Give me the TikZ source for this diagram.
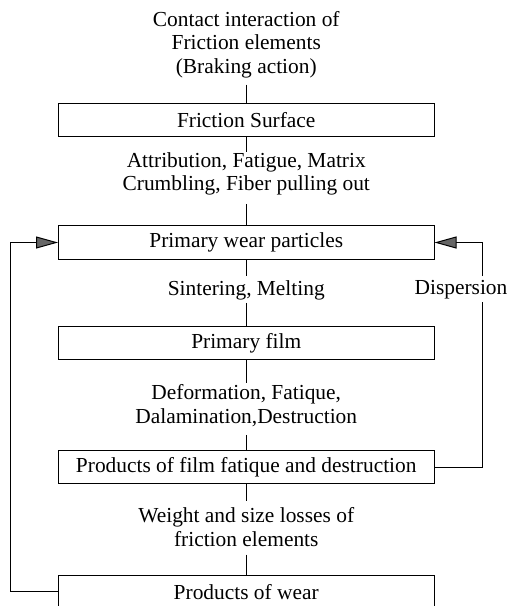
\documentclass[tikz,border=0pt]{standalone}
\usepackage{fontspec}
\setmainfont{Liberation Serif}
\usetikzlibrary{arrows.meta}
\begin{document}
\begin{tikzpicture}[x=1pt,y=-1pt,
  every node/.style={font=\fontsize{21.4}{23.5}\selectfont},
  box/.style={draw,line width=1pt,minimum width=375.5pt,minimum height=33.5pt,inner sep=0pt},
  lab/.style={align=center,anchor=north,inner sep=0pt},
  conn/.style={line width=1pt},
  fb/.style={line width=1pt,-{Triangle[length=22pt,width=12pt,fill=black!60]}}]
\useasboundingbox (0,0) rectangle (516,606);
\clip (0,0) rectangle (516,606);
% text and boxes
\node[lab] (title) at (246.25,11) {Contact interaction of\\Friction elements\\(Braking action)};
\node[box] (b1) at (246.25,120) {Friction Surface};
\node[lab] (l1) at (246.25,152.4) {Attribution, Fatigue, Matrix\\Crumbling, Fiber pulling out};
\node[box] (b2) at (246.25,242.5) {Primary wear particles};
\node[lab] (l2) at (246.25,280) {Sintering, Melting};
\node[lab] (disp) at (461,280) {Dispersion};
\node[box] (b3) at (246.25,343) {Primary film};
\node[lab] (l3) at (246.25,384.5) {Deformation, Fatique,\\Dalamination,Destruction};
\node[box] (b4) at (246.25,467) {Products of film fatique and destruction};
\node[lab] (l4) at (246.25,507.5) {Weight and size losses of\\friction elements};
\node[box] (b5) at (246.25,591.75) {Products of wear};
\coordinate (lx) at (10,0);
\coordinate (rx) at (482.7,0);
% central chain
\draw[conn,shorten <=6.5pt] (title.south) -- (b1.north);
\draw[conn] (b1.south) -- (l1.north);
\draw[conn,shorten <=8pt] (l1.south) -- (b2.north);
\draw[conn,shorten >=4pt] (b2.south) -- (l2.north);
\draw[conn,shorten <=3pt] (l2.south) -- (b3.north);
\draw[conn,shorten >=2pt] (b3.south) -- (l3.north);
\draw[conn,shorten <=8pt] (l3.south) -- (b4.north);
\draw[conn,shorten >=7pt] (b4.south) -- (l4.north);
\draw[conn,shorten <=8pt] (l4.south) -- (b5.north);
% feedback loops
\draw[fb] (b5.west) -- (b5.west -| lx) -- (b2.west -| lx) -- (b2.west);
\draw[conn,shorten >=3pt] (b4.east) -- (b4.east -| rx) -- (disp.south -| rx);
\draw[fb,shorten <=4pt] (disp.north -| rx) -- (b2.east -| rx) -- (b2.east);
\end{tikzpicture}
\end{document}
